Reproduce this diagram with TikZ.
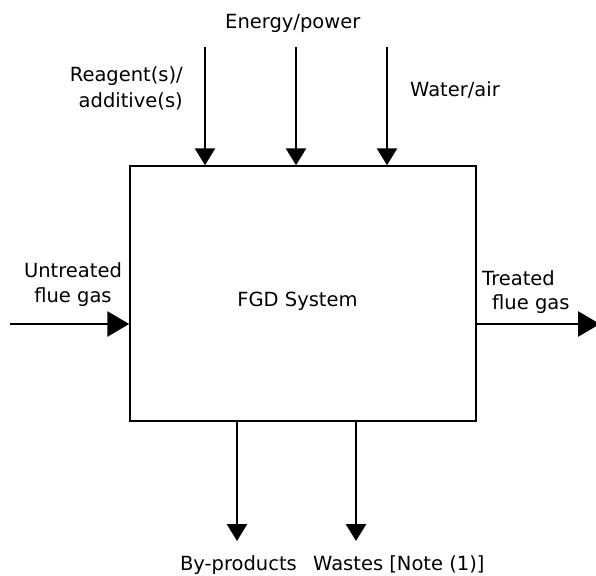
\documentclass[tikz,border=0pt]{standalone}
\usepackage{fontspec}
\setmainfont{DejaVu Sans}
\usetikzlibrary{arrows.meta}
\begin{document}
\begin{tikzpicture}[x=1pt,y=-1pt,
  lbl/.style={inner sep=0pt,font=\fontsize{19.5}{25}\selectfont},
  vflow/.style={line width=2.9pt,-{Triangle[width=20pt,length=17pt]}},
  hflow/.style={line width=2.9pt,-{Triangle[width=25pt,length=22pt]}},
  sysbox/.style={draw,line width=1.5pt,minimum width=346pt,minimum height=255pt,inner sep=0pt}]
\useasboundingbox (0,0) rectangle (596,575);
\node[sysbox] (sys) at (303,293.5) {};
\node[lbl,anchor=base] (sysl) at (297.5,306) {FGD System};
% top inputs
\coordinate (t1) at (205,47);
\coordinate (t2) at (296,47);
\coordinate (t3) at (387,47);
\draw[vflow] (t1) -- (t1 |- sys.north);
\draw[vflow] (t2) -- (t2 |- sys.north);
\draw[vflow] (t3) -- (t3 |- sys.north);
\node[lbl,anchor=base west] (energy) at (225,29) {Energy/power};
\node[lbl,anchor=base east] (reag1) at (183,82) {Reagent(s)/};
\node[lbl,anchor=base east] (reag2) at (183,107) {additive(s)};
\node[lbl,anchor=base west] (water) at (410,97) {Water/air};
% left input
\coordinate (lin) at (10,324);
\draw[hflow] (lin) -- (lin -| sys.west);
\node[lbl,anchor=base] (untr1) at (73,277) {Untreated};
\node[lbl,anchor=base] (untr2) at (73,302) {flue gas};
% right output
\coordinate (rout) at (600,324);
\draw[hflow] (rout -| sys.east) -- (rout);
\node[lbl,anchor=base west] (tr1) at (482,285) {Treated};
\node[lbl,anchor=base west] (tr2) at (492,309) {flue gas};
% bottom outputs
\coordinate (b1) at (237,541);
\coordinate (b2) at (356,541);
\draw[vflow] (b1 |- sys.south) -- (b1);
\draw[vflow] (b2 |- sys.south) -- (b2);
\node[lbl,anchor=base east] (byp) at (297,570) {By-products};
\node[lbl,anchor=base west] (wast) at (313,570) {Wastes [Note (1)]};
\end{tikzpicture}
\end{document}
